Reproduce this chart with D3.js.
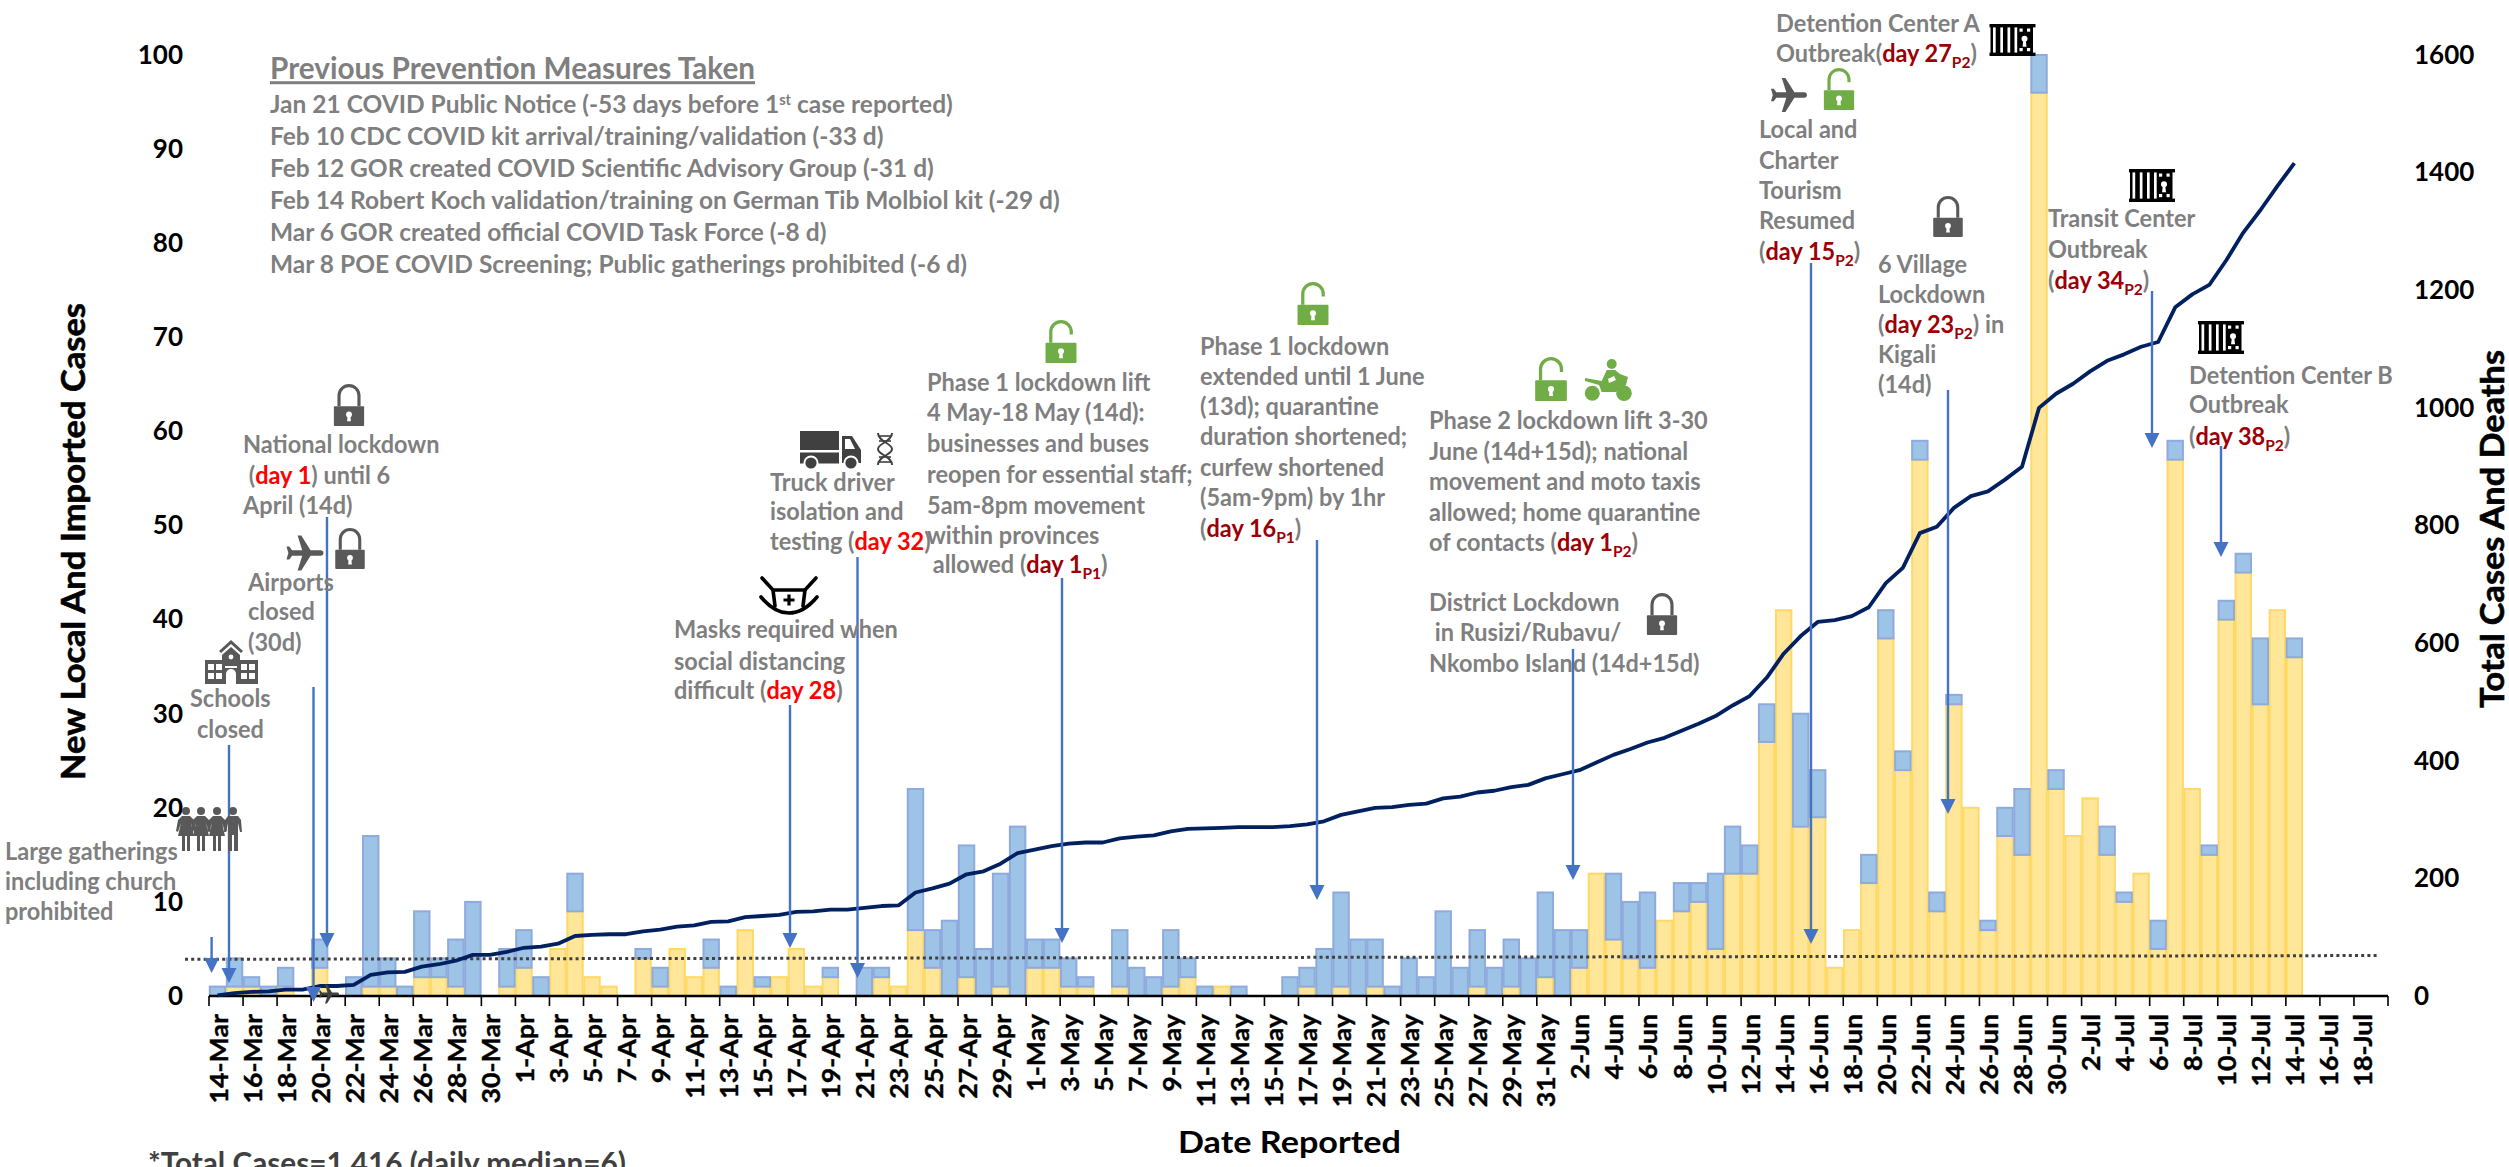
<!DOCTYPE html>
<html><head><meta charset="utf-8">
<script src="https://cdn.jsdelivr.net/npm/d3@7"></script>
<style>html,body{margin:0;padding:0;background:#fff;overflow:hidden}svg{display:block}</style>
</head><body><div id="c"></div>
<script>
const categories=["14-Mar","15-Mar","16-Mar","17-Mar","18-Mar","19-Mar","20-Mar","21-Mar","22-Mar","23-Mar","24-Mar","25-Mar","26-Mar","27-Mar","28-Mar","29-Mar","30-Mar","31-Mar",
"1-Apr","2-Apr","3-Apr","4-Apr","5-Apr","6-Apr","7-Apr","8-Apr","9-Apr","10-Apr","11-Apr","12-Apr","13-Apr","14-Apr","15-Apr","16-Apr","17-Apr","18-Apr","19-Apr","20-Apr","21-Apr","22-Apr","23-Apr","24-Apr","25-Apr","26-Apr","27-Apr","28-Apr","29-Apr","30-Apr",
"1-May","2-May","3-May","4-May","5-May","6-May","7-May","8-May","9-May","10-May","11-May","12-May","13-May","14-May","15-May","16-May","17-May","18-May","19-May","20-May","21-May","22-May","23-May","24-May","25-May","26-May","27-May","28-May","29-May","30-May","31-May",
"1-Jun","2-Jun","3-Jun","4-Jun","5-Jun","6-Jun","7-Jun","8-Jun","9-Jun","10-Jun","11-Jun","12-Jun","13-Jun","14-Jun","15-Jun","16-Jun","17-Jun","18-Jun","19-Jun","20-Jun","21-Jun","22-Jun","23-Jun","24-Jun","25-Jun","26-Jun","27-Jun","28-Jun","29-Jun","30-Jun",
"1-Jul","2-Jul","3-Jul","4-Jul","5-Jul","6-Jul","7-Jul","8-Jul","9-Jul","10-Jul","11-Jul","12-Jul","13-Jul","14-Jul","15-Jul","16-Jul","17-Jul","18-Jul","19-Jul"];
const localCases=[0,1,1,0,1,0,3,0,0,1,1,0,2,2,1,0,0,1,
3,0,5,9,2,1,0,4,1,5,2,3,0,7,1,2,5,1,2,0,0,2,1,7,3,0,2,0,1,0,
3,3,1,1,0,1,0,0,1,2,0,1,0,0,0,0,1,0,1,0,1,0,0,0,0,0,1,0,1,0,2,
0,3,13,6,4,3,8,9,10,5,13,13,27,41,18,19,3,7,12,38,24,57,9,31,20,7,17,15,96,22,
17,21,15,10,13,5,57,22,15,40,45,31,41,36,0,0,0,0,0];
const importedCases=[1,3,1,1,2,0,3,0,2,16,3,1,7,2,5,10,0,4,
4,2,0,4,0,0,0,1,2,0,0,3,1,0,1,0,0,0,1,0,3,1,0,15,4,8,14,5,12,18,
3,3,3,1,0,6,3,2,6,2,1,0,1,0,0,2,2,5,10,6,5,1,4,2,9,3,6,3,5,4,9,
7,4,0,7,6,8,0,3,2,8,5,3,4,0,12,5,0,0,3,3,2,2,2,1,0,1,3,7,4,2,
0,0,3,1,0,3,2,0,1,2,2,7,0,2,0,0,0,0,0];
const totalCasesDeaths=[1,5,7,8,11,11,17,17,19,36,40,41,50,54,60,70,70,75,
82,84,89,102,104,105,105,110,113,118,120,126,127,134,136,138,143,144,147,147,150,153,154,176,183,191,207,212,225,243,
249,255,259,261,261,268,271,273,280,284,285,286,287,287,287,289,292,297,308,314,320,321,325,327,336,339,346,349,355,359,370,
377,384,397,410,420,431,439,451,463,476,494,510,541,582,612,636,639,646,661,702,728,787,798,830,850,858,878,900,1000,1024,
1041,1062,1080,1091,1104,1112,1171,1193,1209,1251,1298,1336,1377,1416];
const leftTicks=[0,10,20,30,40,50,60,70,80,90,100];
const rightTicks=[0,200,400,600,800,1000,1200,1400,1600];
const medianGuide=[3.9,4.3];

const W=2509,H=1167,FONT="Lato, 'Open Sans', sans-serif";
const GREY="#7f7f7f",RED="#ff0000",DARK="#9c0006",ICON="#595959",GREEN="#70ad47",ARROW="#4472c4";
const svg=d3.select("#c").append("svg").attr("width",W).attr("height",H).attr("viewBox",`0 0 ${W} ${H}`).style("font-family",FONT);

const x=d3.scaleBand().domain(categories).range([209,2388]).padding(0);
const yL=d3.scaleLinear().domain([0,100]).range([996,55]);
const yR=d3.scaleLinear().domain([0,1600]).range([996,55]);

// stacked bars
const stack=d3.stack().keys(["local","imported"])(categories.map((c,i)=>({c,local:localCases[i],imported:importedCases[i]})));
const styles={local:["#ffe699","#ffd966"],imported:["#9dc3e6","#8faadc"]};
stack.forEach(s=>{
  svg.append("g").selectAll("rect").data(s.filter(d=>d[1]>d[0])).join("rect")
    .attr("x",d=>x(d.data.c)+0.8).attr("width",x.bandwidth()-1.6)
    .attr("y",d=>yL(d[1])).attr("height",d=>yL(d[0])-yL(d[1]))
    .attr("fill",styles[s.key][0]).attr("stroke",styles[s.key][1]).attr("stroke-width",2);
});

// median guide
svg.append("line").attr("x1",185).attr("x2",2377).attr("y1",yL(medianGuide[0])).attr("y2",yL(medianGuide[1]))
  .attr("stroke","#404040").attr("stroke-width",3).attr("stroke-dasharray","3 3.2");

// x axis
const xAxis=d3.axisBottom(x).tickValues(categories.filter((c,i)=>i%2===0)).tickSize(0).tickPadding(0);
const gx=svg.append("g").attr("transform","translate(0,996)").call(xAxis);
gx.select(".domain").remove();
gx.selectAll(".tick line").remove();
gx.selectAll(".tick text").attr("transform","translate(1,18) rotate(-90) scale(1.07,1)").attr("text-anchor","end").attr("dy","0.36em").attr("x",0).attr("y",0)
  .style("font-family",FONT).style("font-size","25px").style("font-weight",700).attr("fill","#000").attr("stroke","#000").attr("stroke-width",0.4);
svg.append("line").attr("x1",209).attr("x2",2388).attr("y1",996).attr("y2",996).attr("stroke","#000").attr("stroke-width",2.5);
svg.append("g").selectAll("line").data(categories.filter((c,i)=>i%2===0)).join("line")
  .attr("x1",d=>x(d)).attr("x2",d=>x(d)).attr("y1",996).attr("y2",1006).attr("stroke","#000").attr("stroke-width",1.6);
svg.append("line").attr("x1",2388).attr("x2",2388).attr("y1",996).attr("y2",1006).attr("stroke","#000").attr("stroke-width",1.6);

// y axes
const gl=svg.append("g").attr("transform","translate(183,0)").call(d3.axisLeft(yL).tickValues(leftTicks).tickFormat(d3.format("d")).tickSize(0).tickPadding(0));
const gr=svg.append("g").attr("transform","translate(2414,0)").call(d3.axisRight(yR).tickValues(rightTicks).tickFormat(d3.format("d")).tickSize(0).tickPadding(0));
[gl,gr].forEach(g=>{g.select(".domain").remove();
  g.selectAll("text").style("font-family",FONT).style("font-size","26px").style("font-weight",700).attr("fill","#000");});

// cumulative line
const lineGen=d3.line().x((d,i)=>x(categories[i])+x.bandwidth()/2).y(d=>yR(d));
svg.append("path").attr("d",lineGen(totalCasesDeaths)).attr("fill","none").attr("stroke","#002060").attr("stroke-width",3.8).attr("stroke-linejoin","round");

// arrows
const arrows=[[211.6,937,973],[229,745,983],[313.5,687,1002],[327,517,948],[790,705,948],[857.5,557,978],[1062,578,943],[1317,540,900],[1573,649,880],[1811,263,944],[1948,390,814],[2152,291,448],[2221,446,557]];
const ag=svg.append("g");
arrows.forEach(([ax,a0,a1])=>{
  ag.append("line").attr("x1",ax).attr("x2",ax).attr("y1",a0).attr("y2",a1-12).attr("stroke",ARROW).attr("stroke-width",2.4);
  ag.append("path").attr("d",`M${ax-7.5},${a1-15}L${ax+7.5},${a1-15}L${ax},${a1}Z`).attr("fill",ARROW);
});

// text helper:  {R:x} red, {D:x} dark red, {S:x} dark red subscript, {U:x} superscript
function block(px,ys,lines,opts={}){
  const fs=opts.fs||24,sx=opts.sx||0.98;
  lines.forEach((ln,k)=>{
    const lx=Array.isArray(ln)?px+ln[1]:px, str=Array.isArray(ln)?ln[0]:ln;
    const t=svg.append("text").attr("transform",`translate(${lx},${ys[k]+fs*0.34}) scale(${sx},1)`)
      .attr("font-size",fs).attr("font-weight",700).attr("fill",GREY).attr("xml:space","preserve");
    if(opts.underline) t.attr("text-decoration","underline");
    const parts=str.split(/(\{[RDSU]:[^}]*\})/).filter(s=>s);
    let shift=0;
    parts.forEach(p=>{
      const m=p.match(/^\{([RDSU]):([^}]*)\}$/);
      const s=t.append("tspan");
      if(!m){s.text(p);if(shift){s.attr("dy",-shift);shift=0;}return;}
      s.text(m[2]);
      let dy=-shift;shift=0;
      if(m[1]==="R")s.attr("fill",RED);
      if(m[1]==="D")s.attr("fill",DARK);
      if(m[1]==="S"){s.attr("fill",DARK).attr("font-size",fs*0.66);dy+=6;shift=6;}
      if(m[1]==="U"){s.attr("font-size",fs*0.6);dy+=-8;shift=-8;}
      if(dy)s.attr("dy",dy);
    });
  });
}
block(270,[69],["Previous Prevention Measures Taken"],{fs:30,underline:true,sx:.99});
block(270,[104,136,168,200,232,264],[
 "Jan 21 COVID Public Notice (-53 days before 1{U:st} case reported)",
 "Feb 10 CDC COVID kit arrival/training/validation (-33 d)",
 "Feb 12 GOR created COVID Scientific Advisory Group (-31 d)",
 "Feb 14 Robert Koch validation/training on German Tib Molbiol kit (-29 d)",
 "Mar 6 GOR created official COVID Task Force (-8 d)",
 "Mar 8 POE COVID Screening; Public gatherings prohibited (-6 d)"],{fs:25,sx:.98});
block(243,[445,476,506],["National lockdown",[" ({R:day 1}) until 6",0],"April (14d)"]);
block(248,[583,612,643],["Airports","closed","(30d)"]);
block(190,[699,730],["Schools",["closed",7]]);
block(5,[852,882,912],["Large gatherings","including church","prohibited"]);
block(674,[630,662,691],["Masks required when","social distancing","difficult ({R:day 28})"]);
block(770,[483,512,542],["Truck driver","isolation and","testing ({R:day 32})"]);
block(927,[383,413,444,475,506,536,565],["Phase 1 lockdown lift","4 May-18 May (14d):","businesses and buses","reopen for essential staff;","5am-8pm movement","within provinces",[" allowed ({D:day 1}{S:P1})",0]]);
block(1200,[347,377,407,437,468,498,529],["Phase 1 lockdown","extended until 1 June","(13d); quarantine","duration shortened;","curfew shortened","(5am-9pm) by 1hr","({D:day 16}{S:P1})"]);
block(1429,[421,452,482,513,543],["Phase 2 lockdown lift 3-30","June (14d+15d); national","movement and moto taxis","allowed; home quarantine","of contacts ({D:day 1}{S:P2})"]);
block(1429,[603,633,664],["District Lockdown",[" in Rusizi/Rubavu/",0],"Nkombo Island (14d+15d)"]);
block(1776,[24,54],["Detention Center A","Outbreak({D:day 27}{S:P2})"]);
block(1759,[130,161,191,221,252],["Local and","Charter","Tourism","Resumed","({D:day 15}{S:P2})"]);
block(1878,[265,295,325,355,385],["6 Village","Lockdown","({D:day 23}{S:P2}) in","Kigali","(14d)"]);
block(2048,[219,250,281],["Transit Center","Outbreak","({D:day 34}{S:P2})"]);
block(2189,[376,405,437],["Detention Center B","Outbreak","({D:day 38}{S:P2})"]);

// titles
function vtitle(txt,tx,y0,y1){
  svg.append("text").attr("transform",`translate(${tx},${(y0+y1)/2}) rotate(-90)`).attr("text-anchor","middle")
   .attr("font-size",33).attr("font-weight",700).attr("fill","#000").attr("stroke","#000").attr("stroke-width",0.6).attr("textLength",y1-y0).attr("lengthAdjust","spacingAndGlyphs").text(txt);
}
vtitle("New Local And Imported Cases",85,303,780);
vtitle("Total Cases And Deaths",2504,350,708);
svg.append("text").attr("x",1178).attr("y",1153).attr("font-size",31).attr("font-weight",700).attr("fill","#000").attr("textLength",223).attr("lengthAdjust","spacingAndGlyphs").text("Date Reported");
svg.append("text").attr("x",148).attr("y",1174).attr("font-size",31).attr("font-weight",700).attr("fill","#404040").attr("textLength",478).attr("lengthAdjust","spacingAndGlyphs").text("*Total Cases=1,416 (daily median=6)");

// icons
function lock(cx,y0,y1,color,open){
  const h=y1-y0,w=h*0.72,g=svg.append("g").attr("transform",`translate(${cx},${y0})`);
  const by=h*0.53;
  g.append("rect").attr("x",-w/2).attr("y",by).attr("width",w).attr("height",h-by).attr("rx",1).attr("fill",color);
  const r=w*0.33, sw=h*0.075;
  const cy=r+sw/2;
  if(!open) g.append("path").attr("d",`M${-r},${by}V${cy}A${r},${r} 0 0 1 ${r},${cy}V${by}`).attr("fill","none").attr("stroke",color).attr("stroke-width",sw);
  else g.append("path").attr("d",`M${-r},${by}V${cy}A${r},${r} 0 0 1 ${r},${cy}V${h*0.34}`).attr("fill","none").attr("stroke",color).attr("stroke-width",sw);
  g.append("circle").attr("cx",0).attr("cy",by+(h-by)*0.42).attr("r",h*0.07).attr("fill","#fff");
  g.append("path").attr("d",`M${-h*0.03},${by+(h-by)*0.42}h${h*0.06}l${h*0.015},${h*0.16}h${-h*0.09}z`).attr("fill","#fff");
}
function jail(cx,y0,y1){
  const h=y1-y0,w=46,g=svg.append("g").attr("transform",`translate(${cx-w/2},${y0})`).attr("fill","#000");
  g.append("rect").attr("width",w).attr("height",3.4);
  g.append("rect").attr("y",h-3.4).attr("width",w).attr("height",3.4);
  g.append("rect").attr("x",1).attr("y",3).attr("width",42.5).attr("height",h-6);
  [3.5,10.8,18,25].forEach(gx=>g.append("rect").attr("x",gx).attr("y",3.4).attr("width",2.7).attr("height",h-6.8).attr("fill","#fff"));
  g.append("circle").attr("cx",35).attr("cy",h*0.46).attr("r",3).attr("fill","#fff");
  g.append("path").attr("d",`M34,${h*0.46}h2l1,8h-4z`).attr("fill","#fff");
  [[30,4.5],[37.5,4.5],[30,h-8],[37.5,h-8]].forEach(([a,b])=>g.append("rect").attr("x",a).attr("y",b).attr("width",3.2).attr("height",3.2).attr("fill","#fff"));
}
function plane(cx,cy,size,color){
  svg.append("path").attr("transform",`translate(${cx},${cy}) rotate(90) scale(${size/20}) translate(-11.5,-12)`)
   .attr("d","M21 16v-2l-8-5V3.5c0-.83-.67-1.5-1.5-1.5S10 2.67 10 3.5V9l-8 5v2l8-2.5V19l-2 1.5V22l3.5-1 3.5 1v-1.5L13 19v-5.5l8 2.5z").attr("fill",color);
}
function person(px,y0,h,dress){
  const g=svg.append("g").attr("transform",`translate(${px},${y0}) scale(${h/44})`).attr("fill",ICON);
  g.append("circle").attr("cx",0).attr("cy",4).attr("r",4);
  if(dress) g.append("path").attr("d","M-4,9H4L8,13L10,24L8,25L5,16L8,29H4V44H1V29H-1V44H-4V29H-8L-5,16L-8,25L-10,24L-8,13Z");
  else g.append("path").attr("d","M-5,9H5L8,13L9,25H7L5,16V44H1V28H-1V44H-5V16L-7,25H-9L-8,13Z");
}
lock(349,384,426,ICON);
lock(350,528,569,ICON);
plane(305,553,37,ICON);
lock(1061,320,363,GREEN,true);
lock(1313,282,325,GREEN,true);
lock(1551,357,401,GREEN,true);
lock(1662,593,635,ICON);
lock(1839,68,110,GREEN,true);
lock(1948,196,237,ICON);
plane(1789,95,36,ICON);
plane(329,994,20,"#404040");
jail(2012.5,24,56);jail(2152,169,202);jail(2221,321,354);
[186,201,217,233].forEach((p,i)=>person(p,807,44,i!==3));
// school
(function(){const g=svg.append("g").attr("transform","translate(205,640)").attr("fill",ICON);
 g.append("path").attr("d","M26,0L38,11L36,13L26,4L16,13L14,11Z");
 g.append("path").attr("d","M26,7L35,15V20H53V44H0V20H17V15Z");
 g.append("circle").attr("cx",26).attr("cy",17).attr("r",2.4).attr("fill","#fff");
 [3,11,36,44].forEach(wx=>[24,33].forEach(wy=>g.append("rect").attr("x",wx).attr("y",wy).attr("width",6).attr("height",6).attr("fill","#fff")));
 g.append("path").attr("d","M21,44V34A5,5 0 0 1 31,34V44Z").attr("fill","#fff");
 g.append("rect").attr("x",20).attr("y",26).attr("width",12).attr("height",2).attr("fill","#fff");
})();
// truck + DNA
(function(){const g=svg.append("g").attr("transform","translate(800,431)").attr("fill","#404040");
 g.append("rect").attr("width",39).attr("height",19);
 g.append("rect").attr("y",21.5).attr("width",39).attr("height",11);
 g.append("path").attr("d","M42,5H52L61,19V32H42Z");
 g.append("path").attr("d","M45,8H50L55,18H45Z").attr("fill","#fff");
 [[11,32],[51,32]].forEach(([a,b])=>{g.append("circle").attr("cx",a).attr("cy",b).attr("r",7.6).attr("fill","#fff");g.append("circle").attr("cx",a).attr("cy",b).attr("r",5.6);});
 const d=svg.append("g").attr("transform","translate(885,433)").attr("fill","none").attr("stroke","#404040").attr("stroke-width",2);
 d.append("path").attr("d","M-7,0C-7,9 7,10 7,16C7,22 -7,23 -7,32");
 d.append("path").attr("d","M7,0C7,9 -7,10 -7,16C-7,22 7,23 7,32");
 [3,8,24,29].forEach(yy=>d.append("line").attr("x1",-6).attr("x2",6).attr("y1",yy).attr("y2",yy).attr("stroke-width",1.6));
})();
// mask
(function(){const g=svg.append("g").attr("transform","translate(789,577)").attr("fill","none").attr("stroke","#000").attr("stroke-width",3.6).attr("stroke-linecap","round");
 g.append("path").attr("d","M-27,1L-16,13H16L27,1");
 g.append("path").attr("d","M-16,13L-14,29M16,13L14,29");
 g.append("path").attr("d","M-28,20C-18,32 -8,36 0,36C8,36 18,32 28,20");
 g.append("path").attr("d","M-5.5,23H5.5M0,17.5V28.5").attr("stroke-width",3.2).attr("stroke-linecap","butt");
})();
// moto
(function(){const g=svg.append("g").attr("transform","translate(1585,359)").attr("fill",GREEN);
 g.append("circle").attr("cx",26.7).attr("cy",5).attr("r",5);
 g.append("circle").attr("cx",7.3).attr("cy",34.3).attr("r",7.5);
 g.append("circle").attr("cx",39).attr("cy",34.3).attr("r",7.8);
 g.append("path").attr("d","M0,19L16.7,22L21.7,11L30,11L35,15L43,18L41,26L31,33H16.7L14,26L0,22Z");
 g.append("path").attr("d","M23,20L29,17L31,21L24,24Z").attr("fill","#fff");
})();
</script></body></html>
